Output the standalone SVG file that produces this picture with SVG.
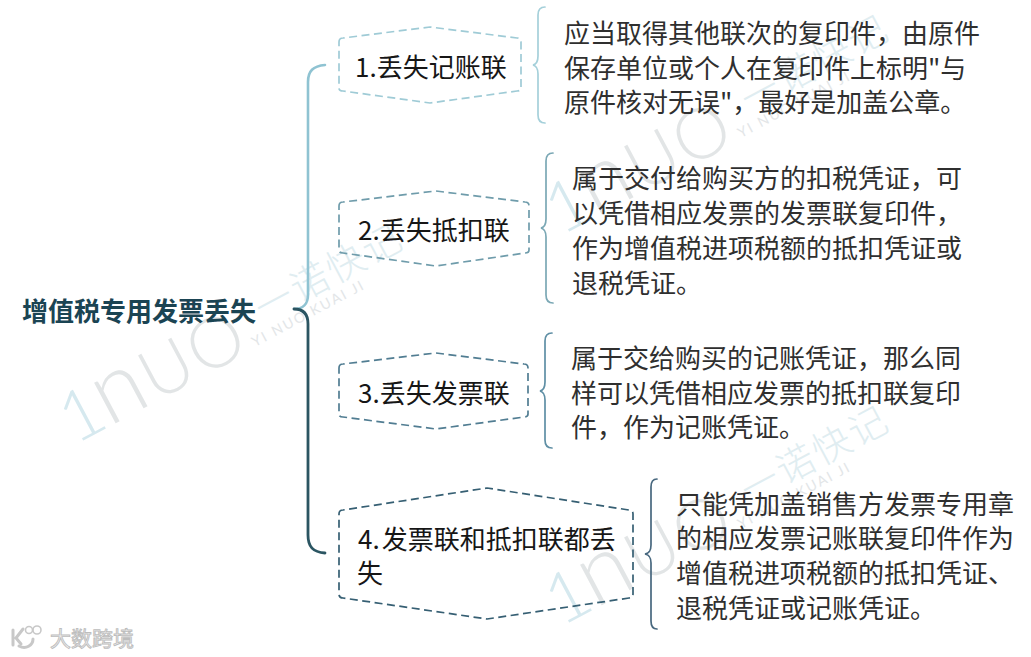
<svg xmlns="http://www.w3.org/2000/svg" width="1031" height="657" viewBox="0 0 1031 657">
<style>
text{font-family:"Noto Sans CJK SC","Noto Sans",sans-serif}
.t{font-size:26px;fill:#2f2f2f}
.n{font-size:26px;fill:#161616}
.r{font-size:26px;font-weight:700;fill:#1b4453}
.box{fill:none;stroke-width:1.7;stroke-dasharray:8 4.5;stroke-linejoin:round}
.br{fill:none;stroke-width:1.7;stroke-linecap:round}
.wm{font-family:"Lato",sans-serif;font-weight:300;font-size:70px;fill:#e2e5e6;letter-spacing:2px}
.wo{fill:#d6e9ef}
.wc{font-size:38px;font-weight:300;fill:#e0edf1}
.ws{font-family:"Lato",sans-serif;font-size:14px;fill:#e3e6e8;letter-spacing:2px}
</style>
<defs>
<g id="wmark">
<text class="wm"><tspan class="wo">1</tspan><tspan font-size="92" dx="-4">n</tspan><tspan>UO</tspan></text>
<text class="wc" x="224" y="-20" textLength="160">一诺快记</text>
<text class="ws" x="205" y="-2">YI NUO KUAI JI</text>
</g>
</defs>
<rect width="1031" height="657" fill="#fff"/>
<g id="watermarks">
<use href="#wmark" transform="translate(75,445) rotate(-28)"/>
<use href="#wmark" transform="translate(561,236) rotate(-28)"/>
<use href="#wmark" transform="translate(561,627) rotate(-28)"/>
</g>
<g id="connectors">
<path class="br" style="stroke-width:2.6" stroke="#8fc3d2" d="M325 65C313 66 308 71 308 82V295C308 304 303 309 294 309"/>
<path class="br" style="stroke-width:2.8" stroke="#2b5562" d="M294 309C303 309 308 314 308 324V535C308 547 313 552 325 553"/>
<path class="br" stroke="#a5d0da" d="M545 7C540 7 538 10 538 15V56C538 61 537 64 533 65C537 66 538 69 538 74V115C538 120 540 123 545 123"/>
<path class="br" stroke="#7ba8b5" d="M553 153C548 153 546 156 546 161V219C546 224 545 227 541 228C545 229 546 232 546 237V295C546 300 548 303 553 303"/>
<path class="br" stroke="#5f8fa5" d="M552 333C547 333 545 336 545 341V382C545 387 544 390 540 391C544 392 545 395 545 400V440C545 445 547 448 552 448"/>
<path class="br" stroke="#48687f" d="M657 479C653 479 651 482 651 487V545C651 550 650 553 645 554C650 555 651 558 651 563V621C651 626 653 629 657 629"/>
</g>
<g id="root"><text class="r" x="22" y="321">增值税专用发票丢失</text></g>
<g id="node1">
<path class="box" stroke="#9fcbd6" d="M339 42Q339 38 343 38L430 27L517 38Q521 38 521 42V88Q521 91 517 91L430 103L343 91Q339 91 339 88Z"/>
<text class="n" x="355" y="77">1.丢失记账联</text>
</g>
<g id="node2">
<path class="box" stroke="#6f9cab" d="M339 206Q339 202 343 202L436 191L525 202Q529 202 529 206V250Q529 253 525 253L436 266L343 253Q339 253 339 250Z"/>
<text class="n" x="358" y="240">2.丢失抵扣联</text>
</g>
<g id="node3">
<path class="box" stroke="#517d92" d="M339 368Q339 364 343 364L436 353L524 364Q528 364 528 368V414Q528 417 524 417L436 429L343 417Q339 417 339 414Z"/>
<text class="n" x="358" y="403">3.丢失发票联</text>
</g>
<g id="node4">
<path class="box" stroke="#365f73" d="M339 514Q339 510 343 510L487 488L629 510Q633 510 633 514V594Q633 598 629 598L487 619L343 598Q339 598 339 594Z"/>
<text class="n" x="358" y="549">4.<tspan dx="2">发票联和抵扣联都丢</tspan></text>
<text class="n" x="357" y="583">失</text>
</g>
<g id="detail1">
<text class="t" x="564" y="43">应当取得其他联次的复印件，由原件</text>
<text class="t" x="564" y="78">保存单位或个人在复印件上标明"与</text>
<text class="t" x="564" y="112">原件核对无误"，最好是加盖公章。</text>
</g>
<g id="detail2">
<text class="t" x="572" y="188">属于交付给购买方的扣税凭证，可</text>
<text class="t" x="572" y="223">以凭借相应发票的发票联复印件，</text>
<text class="t" x="572" y="258">作为增值税进项税额的抵扣凭证或</text>
<text class="t" x="572" y="293">退税凭证。</text>
</g>
<g id="detail3">
<text class="t" x="571" y="368">属于交给购买的记账凭证，那么同</text>
<text class="t" x="571" y="403">样可以凭借相应发票的抵扣联复印</text>
<text class="t" x="571" y="437">件，作为记账凭证。</text>
</g>
<g id="detail4">
<text class="t" x="676" y="514">只能凭加盖销售方发票专用章</text>
<text class="t" x="676" y="548">的相应发票记账联复印件作为</text>
<text class="t" x="676" y="583">增值税进项税额的抵扣凭证、</text>
<text class="t" x="676" y="618">退税凭证或记账凭证。</text>
</g>
<g id="logo">
<path d="M13 630V645M23 629L16 638L21 644" fill="none" stroke="#c8c8c8" stroke-width="3" stroke-linecap="round"/>
<path d="M19 646C26 650 33 645 33 639" fill="none" stroke="#c8c8c8" stroke-width="3" stroke-linecap="round"/>
<circle cx="29" cy="630" r="3.5" fill="none" stroke="#c8c8c8" stroke-width="1.6"/>
<circle cx="37" cy="630" r="4" fill="none" stroke="#c8c8c8" stroke-width="1.6"/>
<text x="50" y="646" font-size="21" fill="#f4f4f4" stroke="#bdbdbd" stroke-width=".9">大数跨境</text>
</g>
</svg>
